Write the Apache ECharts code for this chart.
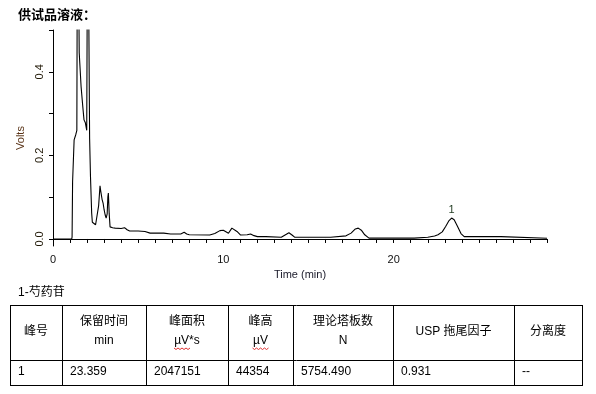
<!DOCTYPE html>
<html><head><meta charset="utf-8">
<script src="https://cdn.jsdelivr.net/npm/echarts@6/dist/echarts.min.js"></script>
<style>html,body{margin:0;padding:0;background:#fff}#c{width:596px;height:394px}</style>
</head><body><div id="c"></div>
<script>
// ---- data ----
const timeMin = [0, 1.10, 1.12, 1.15, 1.24, 1.34, 1.40, 1.44, 1.50, 1.54, 1.65, 1.75, 1.82, 1.90, 1.98,
  2.04, 2.13, 2.15, 2.20, 2.27, 2.31, 2.40, 2.50, 2.60, 2.68, 2.76, 2.80, 2.88, 2.94, 3.00, 3.06, 3.12,
  3.18, 3.22, 3.25, 3.30, 3.35, 3.50, 3.65, 4.0, 4.2, 4.35, 4.5, 5.0, 5.4, 5.7, 6.5, 6.9, 7.5, 7.7, 7.85,
  8.0, 9.2, 9.5, 9.8, 10.0, 10.3, 10.5, 10.6, 10.8, 11.0, 11.4, 11.6, 11.8, 12.0, 12.5, 12.6, 13.4, 13.6,
  13.85, 14.05, 14.2, 16.3, 16.4, 17.2, 17.5, 17.75, 17.92, 18.1, 18.3, 18.55, 21.2, 21.3, 22.0, 22.4,
  22.6, 22.85, 23.05, 23.25, 23.4, 23.55, 23.75, 23.95, 24.14, 26.3, 26.35, 29];
const volts = [0, 0, 0.005, 0.137, 0.237, 0.25, 0.26, 0.9, 0.9, 0.445, 0.364, 0.316, 0.285, 0.278, 0.26,
  0.9, 0.9, 0.24, 0.15, 0.062, 0.04, 0.037, 0.034, 0.034, 0.08, 0.127, 0.115, 0.095, 0.086, 0.07, 0.058, 0.05,
  0.06, 0.1, 0.11, 0.06, 0.029, 0.027, 0.026, 0.025, 0.027, 0.022, 0.019, 0.019, 0.018, 0.014, 0.014, 0.012, 0.012, 0.016, 0.012,
  0.010, 0.0096, 0.013, 0.02, 0.021, 0.0137, 0.026, 0.028, 0.018, 0.0096, 0.01, 0.012, 0.008, 0.0056, 0.0056, 0.004, 0.004, 0.009,
  0.015, 0.009, 0.004, 0.004, 0.007, 0.0075, 0.014, 0.024, 0.026, 0.021, 0.01, 0.002, 0.002, 0.004, 0.004, 0.007,
  0.01, 0.017, 0.03, 0.044, 0.05, 0.046, 0.03, 0.013, 0.0056, 0.0056, 0.0017, 0.0017];
const peakNames = ['1'];
const peakTimes = [23.4];
const peakVolts = [0.05];
const yTickValues = [0, 0.1, 0.2, 0.3, 0.4, 0.5];
const yLabelValues = [0, 0.2, 0.4];
const xLabelValues = [0, 10, 20];
const titleText = '供试品溶液：';
const compoundText = '1-芍药苷';
const headerLine1 = ['峰号', '保留时间', '峰面积', '峰高', '理论塔板数', 'USP 拖尾因子', '分离度'];
const headerLine2 = ['', 'min', 'µV*s', 'µV', 'N', '', ''];
const rowValues = ['1', '23.359', '2047151', '44354', '5754.490', '0.931', '--'];

// ---- layout ----
const FONT = '"Liberation Sans", Arial, "Noto Sans CJK SC", sans-serif';
const colX = [10, 62, 146, 228, 293, 393, 514, 582];
const tTop = 305, tMid = 360, tBot = 385;

const chart = echarts.init(document.getElementById('c'));
const graphics = [];
graphics.push({type: 'text', left: 18, top: 9, style: {text: titleText, font: 'bold 13px ' + FONT, fill: '#000'}});
graphics.push({type: 'text', left: 18, top: 287, style: {text: compoundText, font: '12px ' + FONT, fill: '#000'}});
const lineStyle = {stroke: '#000', lineWidth: 1};
[tTop, tMid, tBot].forEach(y => graphics.push({type: 'line', shape: {x1: colX[0], y1: y + 0.5, x2: colX[colX.length - 1] + 1, y2: y + 0.5}, style: lineStyle}));
colX.forEach(x => graphics.push({type: 'line', shape: {x1: x + 0.5, y1: tTop, x2: x + 0.5, y2: tBot + 1}, style: lineStyle}));
headerLine1.forEach((h, i) => {
  const cx = (colX[i] + colX[i + 1]) / 2;
  const two = headerLine2[i] !== '';
  graphics.push({type: 'text', x: cx, y: two ? 322 : 332, style: {text: h, font: '12px ' + FONT, fill: '#000', align: 'center', verticalAlign: 'middle'}});
  if (two) {
    graphics.push({type: 'text', x: cx, y: 341, style: {text: headerLine2[i], font: '12px ' + FONT, fill: '#000', align: 'center', verticalAlign: 'middle'}});
    if (headerLine2[i].indexOf('µV') === 0) {
      const w = 16, x0 = cx - (headerLine2[i].length > 2 ? 13 : 8);
      const pts = [];
      for (let k = 0; k <= w; k += 2) pts.push([x0 + k, 348 + (k % 4 === 0 ? 0 : 1.5)]);
      graphics.push({type: 'polyline', shape: {points: pts}, style: {stroke: '#e03030', lineWidth: 1, fill: null}});
    }
  }
});
rowValues.forEach((v, i) => {
  graphics.push({type: 'text', x: colX[i] + 8, y: 372, style: {text: v, font: '12px ' + FONT, fill: '#000', align: 'left', verticalAlign: 'middle'}});
});

chart.setOption({
  animation: false,
  backgroundColor: '#fff',
  grid: {left: 53, right: 49, top: 30, bottom: 148},
  xAxis: {
    type: 'value', min: 0, max: 29, interval: 1,
    name: 'Time (min)', nameLocation: 'middle', nameGap: 21,
    nameTextStyle: {fontFamily: FONT, fontSize: 11, color: '#1a1a2a'},
    axisLine: {lineStyle: {color: '#000', width: 1}},
    axisTick: {show: true, length: 4, lineStyle: {color: '#000'}},
    axisLabel: {customValues: xLabelValues, margin: 8, fontFamily: FONT, fontSize: 11, color: '#111'},
    splitLine: {show: false}
  },
  yAxis: {
    type: 'value', min: -0.0168, max: 0.5,
    name: 'Volts', nameLocation: 'middle', nameGap: 22,
    nameTextStyle: {fontFamily: FONT, fontSize: 11, color: '#5a3418'},
    axisLine: {show: true, lineStyle: {color: '#000', width: 1}},
    axisTick: {show: true, length: 4, customValues: yTickValues, lineStyle: {color: '#000'}},
    axisLabel: {customValues: yLabelValues, rotate: 90, margin: 8, fontFamily: FONT, fontSize: 11, color: '#221a08',
      formatter: v => v.toFixed(1)},
    splitLine: {show: false}
  },
  graphic: graphics,
  series: [{
    type: 'line',
    data: timeMin.map((t, i) => [t, volts[i]]),
    showSymbol: false, symbol: 'none', clip: true,
    lineStyle: {color: '#000', width: 1.1},
    markPoint: {
      symbol: 'circle', symbolSize: 0,
      label: {show: true, position: 'top', distance: 3, formatter: p => p.name, fontFamily: FONT, fontSize: 11, color: '#1f3a1f'},
      data: peakNames.map((n, i) => ({name: n, coord: [peakTimes[i], peakVolts[i]]}))
    }
  }]
});
</script></body></html>
